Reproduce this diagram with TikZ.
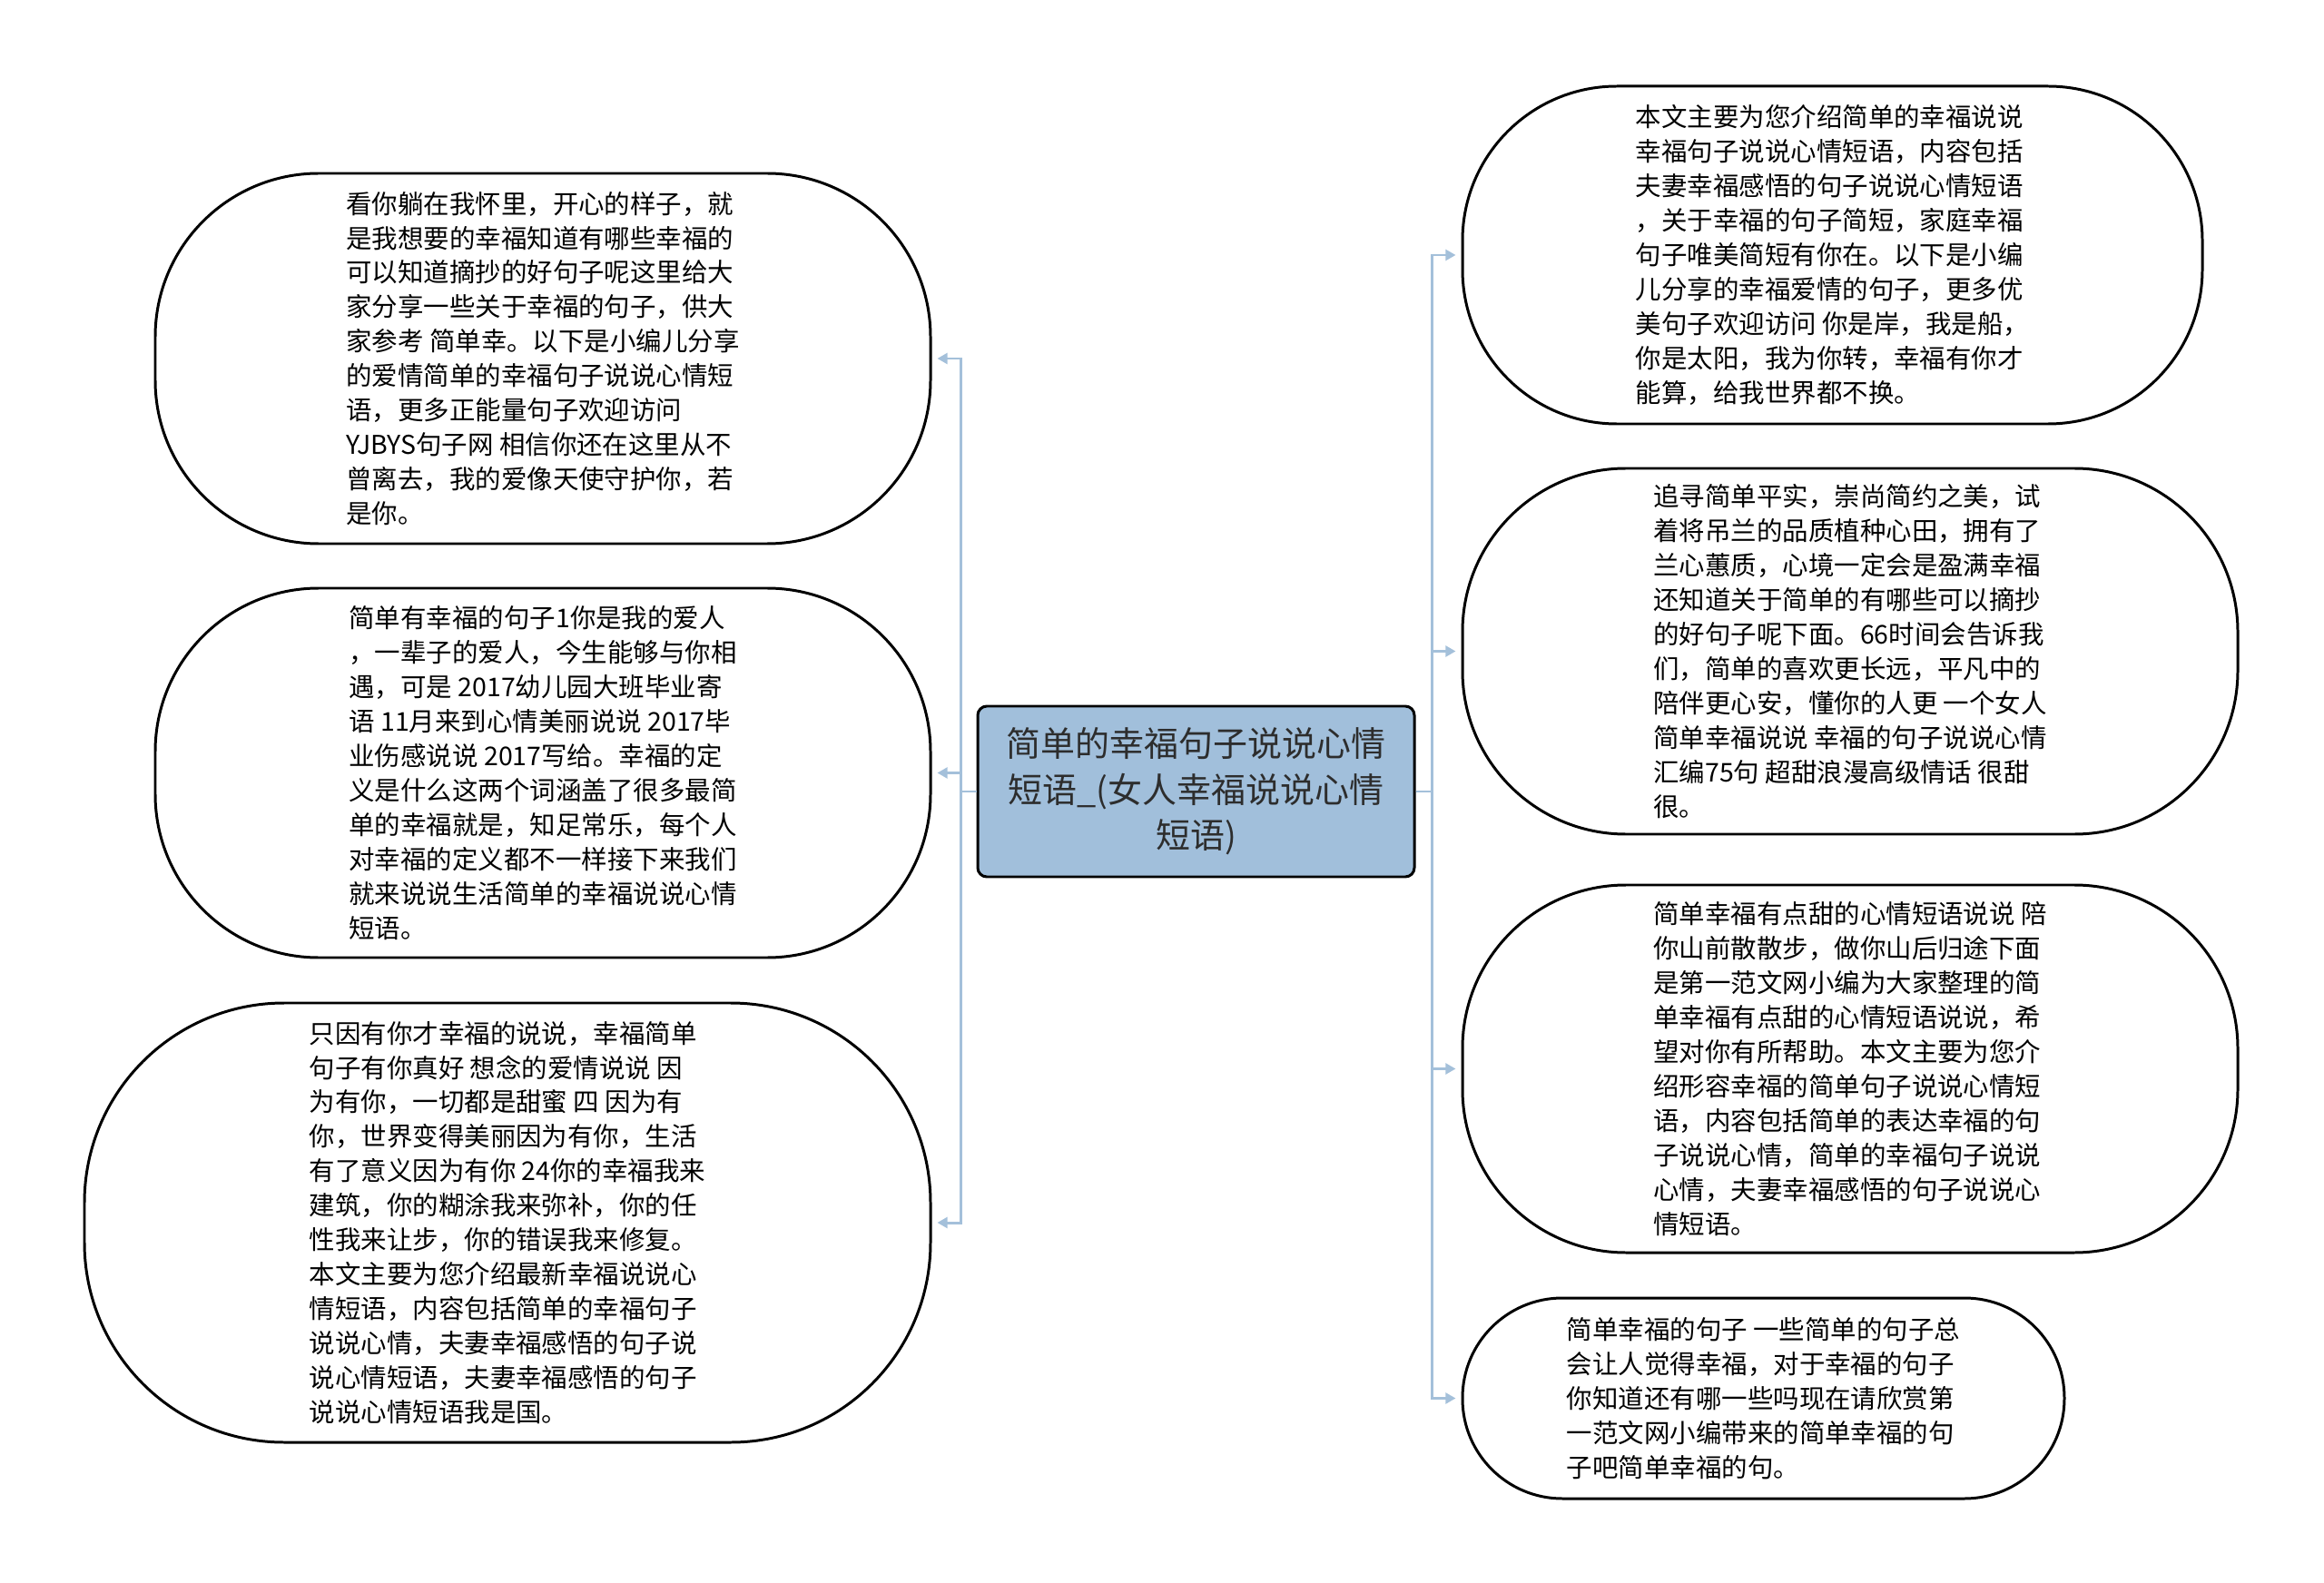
\documentclass[tikz,border=0pt]{standalone}
\usepackage{fontspec}
\setmainfont{Noto Sans CJK SC}
\usetikzlibrary{arrows.meta}
\definecolor{linkblue}{RGB}{164,192,218}
\definecolor{rootblue}{RGB}{161,191,219}
\definecolor{rootink}{RGB}{45,45,45}

\begin{document}
\begin{tikzpicture}[
    bubble/.style={draw, line width=0.85pt, rounded corners=#1, align=left, inner sep=0pt,
      font=\fontsize{8.1pt}{10.8pt}\selectfont},
    bubble/.default=1.8cm,
    root/.style={draw, line width=0.85pt, rounded corners=0.1cm, fill=rootblue, text=rootink,
      align=center, minimum width=4.81cm, minimum height=1.88cm,
      font=\fontsize{10.8pt}{14.4pt}\selectfont},
    link/.style={linkblue, line width=0.85pt, -{Triangle[length=3.2pt,width=3.4pt]}, shorten >=1.7pt}]
  \useasboundingbox (0,0) rectangle (25.6,-17.44);
  \node[root] (c) at (13.175,-8.72) {简单的幸福句子说说心情\\短语\_(女人幸福说说心情\\短语)};
  \node[bubble, minimum width=8.54cm, minimum height=4.08cm] (l1) at (5.98,-3.95) {看你躺在我怀里，开心的样子，就\\是我想要的幸福知道有哪些幸福的\\可以知道摘抄的好句子呢这里给大\\家分享一些关于幸福的句子，供大\\家参考 简单幸。以下是小编儿分享\\的爱情简单的幸福句子说说心情短\\语，更多正能量句子欢迎访问\\YJBYS句子网 相信你还在这里从不\\曾离去，我的爱像天使守护你，若\\是你。};
  \node[bubble, minimum width=8.54cm, minimum height=4.07cm] (l2) at (5.98,-8.515) {简单有幸福的句子1你是我的爱人\\，一辈子的爱人，今生能够与你相\\遇，可是 2017幼儿园大班毕业寄\\语 11月来到心情美丽说说 2017毕\\业伤感说说 2017写给。幸福的定\\义是什么这两个词涵盖了很多最简\\单的幸福就是，知足常乐，每个人\\对幸福的定义都不一样接下来我们\\就来说说生活简单的幸福说说心情\\短语。};
  \node[bubble=2.2cm, minimum width=9.32cm, minimum height=4.84cm] (l3) at (5.59,-13.47) {只因有你才幸福的说说，幸福简单\\句子有你真好 想念的爱情说说 因\\为有你，一切都是甜蜜 四 因为有\\你，世界变得美丽因为有你，生活\\有了意义因为有你 24你的幸福我来\\建筑，你的糊涂我来弥补，你的任\\性我来让步，你的错误我来修复。\\本文主要为您介绍最新幸福说说心\\情短语，内容包括简单的幸福句子\\说说心情，夫妻幸福感悟的句子说\\说心情短语，夫妻幸福感悟的句子\\说说心情短语我是国。};
  \node[bubble=1.7cm, minimum width=8.15cm, minimum height=3.72cm] (r1) at (20.185,-2.81) {本文主要为您介绍简单的幸福说说\\幸福句子说说心情短语，内容包括\\夫妻幸福感悟的句子说说心情短语\\，关于幸福的句子简短，家庭幸福\\句子唯美简短有你在。以下是小编\\儿分享的幸福爱情的句子，更多优\\美句子欢迎访问 你是岸，我是船，\\你是太阳，我为你转，幸福有你才\\能算，给我世界都不换。};
  \node[bubble, minimum width=8.54cm, minimum height=4.03cm] (r2) at (20.38,-7.175) {追寻简单平实，崇尚简约之美，试\\着将吊兰的品质植种心田，拥有了\\兰心蕙质，心境一定会是盈满幸福\\还知道关于简单的有哪些可以摘抄\\的好句子呢下面。66时间会告诉我\\们，简单的喜欢更长远，平凡中的\\陪伴更心安，懂你的人更 一个女人\\简单幸福说说 幸福的句子说说心情\\汇编75句 超甜浪漫高级情话 很甜\\很。};
  \node[bubble, minimum width=8.54cm, minimum height=4.05cm] (r3) at (20.38,-11.775) {简单幸福有点甜的心情短语说说 陪\\你山前散散步，做你山后归途下面\\是第一范文网小编为大家整理的简\\单幸福有点甜的心情短语说说，希\\望对你有所帮助。本文主要为您介\\绍形容幸福的简单句子说说心情短\\语，内容包括简单的表达幸福的句\\子说说心情，简单的幸福句子说说\\心情，夫妻幸福感悟的句子说说心\\情短语。};
  \node[bubble=1.1cm, minimum width=6.63cm, minimum height=2.21cm] (r4) at (19.425,-15.405) {简单幸福的句子 一些简单的句子总\\会让人觉得幸福，对于幸福的句子\\你知道还有哪一些吗现在请欣赏第\\一范文网小编带来的简单幸福的句\\子吧简单幸福的句。};
  \coordinate (lt) at (10.58,-8.72);
  \coordinate (rt) at (15.77,-8.72);
  \foreach \n in {l1,l2,l3}
    \draw[link] (c.west) -- (lt) |- (\n.east);
  \foreach \n in {r1,r2,r3,r4}
    \draw[link] (c.east) -- (rt) |- (\n.west);
\end{tikzpicture}
\end{document}
